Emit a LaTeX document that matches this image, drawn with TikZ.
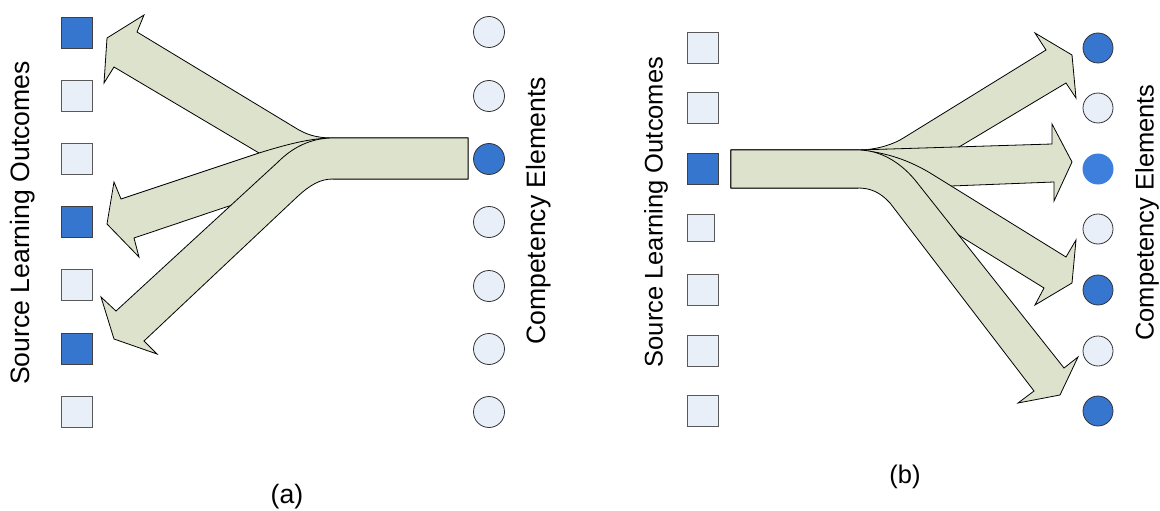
\documentclass[tikz,border=0pt]{standalone}
\usepackage{fontspec}
\setmainfont{Liberation Sans}
\usetikzlibrary{positioning}

\definecolor{flowfill}{RGB}{220,226,203}
\definecolor{hiblue}{RGB}{54,118,206}
\definecolor{midblue}{RGB}{62,126,220}
\definecolor{loblue}{RGB}{232,239,249}

\begin{document}
\begin{tikzpicture}[x=1pt, y=-1pt,
  sqlo/.style={draw=black!65, fill=loblue, rectangle, minimum size=31pt, inner sep=0pt, line width=0.9pt},
  sqhi/.style={sqlo, fill=hiblue, draw=black!75},
  celo/.style={draw=black!80, fill=loblue, circle, minimum size=31pt, inner sep=0pt, line width=0.8pt},
  cehi/.style={celo, fill=hiblue},
  lbla/.style={font=\fontsize{26.6}{30}\selectfont, inner sep=0pt},
  lblb/.style={font=\fontsize{25.5}{30}\selectfont, inner sep=0pt},
  flow/.style={draw=black, fill=flowfill, line width=0.8pt, line join=miter},
]
\useasboundingbox (0,0) rectangle (1160,511);

%--- (a) arrows ---
\draw[flow] (468,138) -- (333,138) .. controls (315,138) and (305,134) .. (294,127)
  -- (137,32) -- (144,15) -- (107,38) -- (104,83) -- (114,67) -- (259,153)
  -- (333,160) -- (333,179) -- (468,179) -- cycle;
\draw[flow] (468,138) -- (333,138) .. controls (310,138) and (285,145) .. (259,153)
  -- (121,199) -- (114,182) -- (107,224) -- (139,257) -- (134,238) -- (226,207)
  -- (300,185) -- (333,170) -- (333,179) -- (468,179) -- cycle;
\draw[flow] (468,138) -- (333,138) .. controls (310,138) and (292,148) .. (278,162)
  -- (116,311) -- (101,297) -- (114,339) -- (157,354) -- (144,341) -- (297,197)
  .. controls (310,185) and (320,179) .. (333,179) -- (468,179) -- cycle;

%--- (a) source outcomes ---
\node[sqhi] (sa1) at (77,33)  {};
\node[sqlo] (sa2) at (77,96)  {};
\node[sqlo] (sa3) at (77,159) {};
\node[sqhi] (sa4) at (77,222) {};
\node[sqlo] (sa5) at (77,285) {};
\node[sqhi] (sa6) at (77,349) {};
\node[sqlo] (sa7) at (77,412) {};

%--- (a) competency elements ---
\node[celo] (ca1) at (489,32)  {};
\node[celo] (ca2) at (489,96)  {};
\node[cehi] (ca3) at (489,159) {};
\node[celo] (ca4) at (489,222) {};
\node[celo] (ca5) at (489,286) {};
\node[celo] (ca6) at (489,349) {};
\node[celo] (ca7) at (489,412) {};

\node[lbla, rotate=90] (srca) at (23,223) {Source Learning Outcomes};
\node[lbla, rotate=90] (cmpa) at (539,211) {Competency Elements};
\node[lbla] (capa) at (287,497) {(a)};

%--- (b) arrows ---
\draw[flow] (731,150) -- (858,150) .. controls (875,150) and (893,145) .. (905,137)
  -- (1046,50) -- (1035,33) -- (1072,55) -- (1076,98) -- (1066,83) -- (959,147)
  -- (900,165) -- (858,170) -- (858,188) -- (731,188) -- cycle;
\draw[flow] (731,150) -- (858,150) -- (1052,144) -- (1052,124) -- (1072,162)
  -- (1054,201) -- (1054,182) -- (951,186) -- (900,180) -- (858,172) -- (858,188) -- (731,188) -- cycle;
\draw[flow] (731,150) -- (858,150) .. controls (885,152) and (910,160) .. (935,176)
  -- (1066,257) -- (1076,240) -- (1072,283) -- (1035,305) -- (1044,288) -- (960,236)
  -- (915,200) -- (858,170) -- (858,188) -- (731,188) -- cycle;
\draw[flow] (731,150) -- (858,150) .. controls (880,150) and (900,162) .. (915,180)
  -- (1064,368) -- (1078,357) -- (1060,395) -- (1018,403) -- (1034,391) -- (890,203)
  .. controls (880,192) and (870,188) .. (858,188) -- (731,188) -- cycle;

%--- (b) source outcomes ---
\node[sqlo] (sb1) at (702.5,48)  {};
\node[sqlo] (sb2) at (702.5,108) {};
\node[sqhi] (sb3) at (702.5,169) {};
\node[sqlo, minimum size=27.5pt] (sb4) at (701,228) {};
\node[sqlo] (sb5) at (702.5,290) {};
\node[sqlo] (sb6) at (702.5,351) {};
\node[sqlo] (sb7) at (702.5,411) {};

%--- (b) competency elements ---
\node[cehi, minimum size=30pt] (cb1) at (1098,48)  {};
\node[celo, minimum size=30pt] (cb2) at (1098,108) {};
\node[circle, fill=midblue, minimum size=31pt, inner sep=0pt] (cb3) at (1098,169) {};
\node[celo, minimum size=30pt] (cb4) at (1098,229) {};
\node[cehi, minimum size=30pt] (cb5) at (1098,290) {};
\node[celo, minimum size=30pt] (cb6) at (1098,351) {};
\node[cehi, minimum size=30pt] (cb7) at (1098,411) {};

\node[lblb, rotate=90] (srcb) at (656,212) {Source Learning Outcomes};
\node[lblb, rotate=90] (cmpb) at (1147,212.5) {Competency Elements};
\node[lblb] (capb) at (905,477) {(b)};

\end{tikzpicture}
\end{document}
